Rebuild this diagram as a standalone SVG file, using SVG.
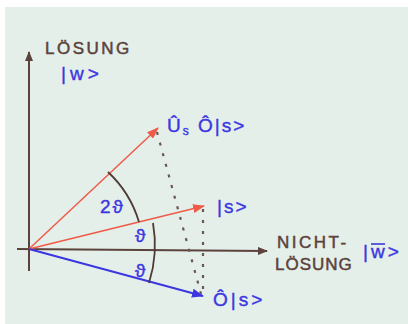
<svg xmlns="http://www.w3.org/2000/svg" width="408" height="324" viewBox="0 0 408 324">
<style>
.lbl{font-family:"Liberation Sans",Arial,sans-serif;font-size:17px;fill:#5b423c;stroke:#5b423c;stroke-width:0.5;letter-spacing:2.5px}
.math{font-family:"Liberation Sans",Arial,sans-serif;font-size:19px;fill:#3b36e0;stroke:#3b36e0;stroke-width:0.4;letter-spacing:2px}
.axis{stroke:#5b423c;stroke-width:2;fill:none}
.arc{stroke:#4e3a36;stroke-width:1.8;fill:none}
.dot{stroke:#6b5650;stroke-width:2.2;fill:none;stroke-dasharray:3 8}
</style>
<defs>
<marker id="ab" markerWidth="10" markerHeight="8" refX="9" refY="4" orient="auto" markerUnits="userSpaceOnUse"><path d="M0,0 L10,4 L0,8 Z" fill="#5b423c"/></marker>
<marker id="ar" markerWidth="12" markerHeight="9" refX="11" refY="4.5" orient="auto" markerUnits="userSpaceOnUse"><path d="M0,0 L12,4.5 L0,9 Z" fill="#f05a48"/></marker>
<marker id="ablue" markerWidth="12" markerHeight="9" refX="11" refY="4.5" orient="auto" markerUnits="userSpaceOnUse"><path d="M0,0 L12,4.5 L0,9 Z" fill="#3b36e0"/></marker>
</defs>
<rect width="408" height="324" fill="#ffffff"/>
<rect x="5" y="7" width="403" height="317" fill="#e5efea"/>
<g id="connectors">
<line class="axis" x1="29" y1="271" x2="29" y2="52" marker-end="url(#ab)"/>
<line class="axis" x1="17" y1="249" x2="267" y2="251" marker-end="url(#ab)"/>
<line class="dot" x1="157" y1="132" x2="201" y2="294"/>
<line class="dot" x1="203" y1="209" x2="203" y2="296"/>
<line x1="29" y1="249" x2="158" y2="128" stroke="#f05a48" stroke-width="1.5" marker-end="url(#ar)"/>
<line x1="29" y1="249" x2="204" y2="206" stroke="#f05a48" stroke-width="1.5" marker-end="url(#ar)"/>
<line x1="29" y1="249" x2="203" y2="296" stroke="#3b36e0" stroke-width="2" marker-end="url(#ablue)"/>
<path class="arc" d="M108,172 A112,112 0 0 1 139,222"/>
<path class="arc" d="M153,223 A126,126 0 0 1 149,283"/>
</g>
<g id="node-loesung"><text class="lbl" x="45" y="54">LÖSUNG</text></g>
<g id="node-w"><text class="math" x="61" y="80" style="letter-spacing:4px">|w&gt;</text></g>
<g id="node-usos"><text class="math" x="167" y="132">Û<tspan font-size="12" dy="3">s</tspan><tspan dy="-3"> Ô|s&gt;</tspan></text></g>
<g id="node-s"><text class="math" x="217" y="213">|s&gt;</text></g>
<g id="node-os"><text class="math" x="213" y="306" style="letter-spacing:3px">Ô|s&gt;</text></g>
<g id="node-nicht"><text class="lbl" x="277" y="248">NICHT-</text><text class="lbl" x="275" y="270" style="letter-spacing:1px">LÖSUNG</text></g>
<g id="node-wbar"><text class="math" x="363" y="258" style="letter-spacing:3px">|w&gt;</text><line x1="371" y1="244" x2="385" y2="244" stroke="#3b36e0" stroke-width="1.6"/></g>
<g id="angles">
<text class="math" x="100" y="213">2ϑ</text>
<text class="math" x="135" y="242">ϑ</text>
<text class="math" x="135" y="277">ϑ</text>
</g>
</svg>
